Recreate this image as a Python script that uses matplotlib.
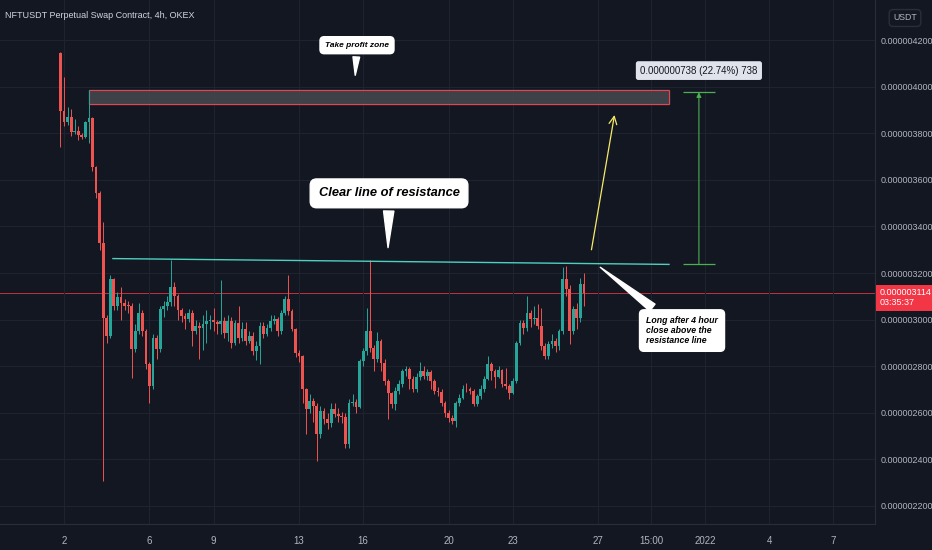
import matplotlib.pyplot as plt
from matplotlib.ticker import FuncFormatter

plt.rcParams['font.family'] = ['Liberation Sans', 'DejaVu Sans']

# prices are in units of 1e-9 USDT (3114 -> 0.000003114)
first_open = 4145
closes = [
    3896, 3847, 3869, 3804, 3810, 3791, 3783, 3847, 3865, 3654,
    3542, 3331, 3009, 2931, 3176, 3060, 3095, 3070, 3060, 3058,
    2875, 2953, 3030, 2953, 2811, 2716, 2923, 2875, 3047, 3060,
    3075, 3138, 3100, 3040, 3017, 3004, 3030, 2953, 2974, 2966,
    2983, 2996, 3000, 2990, 2980, 2996, 2944, 2996, 2901, 2987,
    2920, 2961, 2910, 2930, 2867, 2888, 2974, 2940, 2966, 2996,
    3004, 2953, 3030, 3090, 3039, 2961, 2858, 2845, 2703, 2617,
    2652, 2630, 2510, 2609, 2574, 2557, 2617, 2596, 2587, 2580,
    2467, 2643, 2645, 2625, 2824, 2867, 2953, 2880, 2832, 2910,
    2815, 2738, 2686, 2639, 2695, 2725, 2781, 2790, 2746, 2703,
    2755, 2781, 2760, 2776, 2738, 2695, 2690, 2643, 2600, 2578,
    2566, 2643, 2665, 2703, 2700, 2692, 2639, 2673, 2703, 2746,
    2811, 2781, 2755, 2785, 2725, 2716, 2686, 2738, 2901, 2987,
    2966, 3030, 3004, 3009, 2974, 2888, 2845, 2897, 2910, 2888,
    2953, 3176, 3133, 2953, 3047, 3009, 3155, 3114,
]
highs = [
    4150, 4041, 3912, 3905, 3860, 3830, 3800, 3852, 3985, 3870,
    3660, 3550, 3420, 3020, 3190, 3180, 3120, 3140, 3090, 3080,
    3070, 2980, 3070, 3040, 2960, 2820, 2940, 2935, 3060, 3080,
    3100, 3254, 3160, 3110, 3050, 3030, 3045, 3040, 3000, 2990,
    3020, 3040, 3020, 3050, 3000, 3172, 3010, 3020, 3010, 3000,
    3060, 2990, 2990, 2950, 2945, 2910, 2990, 2990, 2980, 3020,
    3020, 3010, 3040, 3100, 3190, 3045, 2965, 2870, 2850, 2705,
    2680, 2665, 2640, 2630, 2620, 2600, 2640, 2640, 2620, 2605,
    2600, 2660, 2680, 2660, 2830, 2880, 3050, 3254, 2890, 2945,
    2915, 2830, 2745, 2690, 2710, 2740, 2790, 2800, 2795, 2760,
    2770, 2820, 2800, 2790, 2785, 2745, 2710, 2700, 2650, 2610,
    2590, 2650, 2680, 2720, 2730, 2710, 2700, 2680, 2720, 2760,
    2845, 2820, 2790, 2800, 2790, 2794, 2725, 2750, 2910, 3000,
    3000, 3103, 3040, 3060, 3069, 3050, 2900, 2910, 2940, 2920,
    2960, 3224, 3230, 3150, 3060, 3070, 3180, 3200,
]
lows = [
    3740, 3830, 3835, 3790, 3795, 3770, 3775, 3778, 3757, 3640,
    3520, 3300, 2308, 2900, 2920, 3040, 3040, 3000, 3040, 3030,
    2750, 2860, 2940, 2930, 2790, 2640, 2700, 2830, 2860, 3010,
    3040, 3060, 3060, 3000, 2990, 2960, 2990, 2888, 2940, 2830,
    2870, 2900, 2960, 2950, 2940, 2940, 2920, 2910, 2880, 2890,
    2900, 2910, 2890, 2900, 2850, 2828, 2810, 2920, 2930, 2950,
    2980, 2930, 2940, 3020, 3020, 2950, 2840, 2820, 2640, 2510,
    2600, 2560, 2394, 2490, 2550, 2530, 2540, 2580, 2560, 2555,
    2450, 2450, 2630, 2600, 2620, 2800, 2850, 2860, 2780, 2820,
    2780, 2720, 2574, 2620, 2610, 2680, 2710, 2760, 2700, 2690,
    2690, 2740, 2745, 2740, 2700, 2680, 2670, 2630, 2580, 2560,
    2553, 2540, 2630, 2660, 2690, 2680, 2630, 2630, 2660, 2690,
    2740, 2740, 2707, 2750, 2710, 2700, 2660, 2680, 2730, 2890,
    2940, 2950, 2970, 2980, 2960, 2870, 2830, 2830, 2880, 2860,
    2870, 2940, 3100, 2897, 2940, 2960, 2990, 3060,
]

# x axis is in days of December 2021 (32 = 1 Jan 2022)
first_candle_day = 1 + 20 / 24
candle_step = 4 / 24
date_ticks = [2, 6, 9, 13, 16, 20, 23, 27, 29.47, 32, 35, 38]
date_labels = ['2', '6', '9', '13', '16', '20', '23', '27', '15:00', '2022', '4', '7']
price_ticks = list(range(2200, 4201, 200))
last_price = 3114

# drawings
tp_zone = (3.17, 30.31, 3925, 3985)
resistance = ((4.29, 3262), (30.31, 3237))
measure_day, measure_top, measure_bottom = 31.71, 3976, 3237

BG = '#131722'
UP, DOWN = '#26a69a', '#ef5350'
TXT = '#b2b5be'

fig = plt.figure(figsize=(9.32, 5.5), dpi=100, facecolor=BG)
ax = fig.add_axes([0, 26 / 550, 875 / 932, 524 / 550], facecolor=BG)

opens = [first_open] + closes[:-1]
xs = [first_candle_day + i * candle_step for i in range(len(closes))]
cols = [UP if c >= o else DOWN for o, c in zip(opens, closes)]

ax.vlines(xs, lows, highs, colors=cols, lw=0.7, zorder=3)
ax.bar(xs, [max(abs(c - o), 4) for o, c in zip(opens, closes)],
       bottom=[min(o, c) for o, c in zip(opens, closes)],
       width=0.13, color=cols, zorder=4)

# take profit zone
x0, x1, y0, y1 = tp_zone
ax.fill_between([x0, x1], y0, y1, color='#45464d', alpha=0.9, zorder=2)
ax.hlines([y0, y1], x0, x1, color='#e8444f', lw=0.8, zorder=2)
ax.vlines([x0, x1], y0, y1, color='#e8444f', lw=0.8, zorder=2)

# resistance line
ax.plot([resistance[0][0], resistance[1][0]], [resistance[0][1], resistance[1][1]],
        color='#4dd0c0', lw=1.0, zorder=5)

# current price line
ax.axhline(last_price, color='#f23645', lw=0.7, alpha=0.8, zorder=1)

# yellow arrow
ax.annotate('', xy=(27.78, 3890), xytext=(26.66, 3288),
            arrowprops=dict(arrowstyle='->', color='#f5ea6a', lw=0.9, mutation_scale=14))

# measuring tool
ax.annotate('', xy=(measure_day, measure_top), xytext=(measure_day, measure_bottom),
            arrowprops=dict(arrowstyle='-|>', color='#4caf50', lw=0.8, mutation_scale=7,
                            shrinkA=0, shrinkB=0))
ax.hlines([measure_top, measure_bottom], measure_day - 0.75, measure_day + 0.75,
          color='#4caf50', lw=0.9)
ax.text(measure_day, 4069, '0.000000738 (22.74%) 738', ha='center', va='center',
        fontsize=7, color='#131722',
        bbox=dict(boxstyle='round,pad=0.45,rounding_size=0.25', fc='#e0e3eb', ec='none'))

white_box = dict(boxstyle='round,pad=0.6,rounding_size=0.5', fc='white', ec='white')
ax.annotate('Take profit zone', xy=(15.62, 4037), xytext=(15.71, 4178),
            ha='center', va='center', fontsize=6, fontweight='bold', style='italic',
            color='black', bbox=white_box,
            arrowprops=dict(arrowstyle='wedge,tail_width=0.8,shrink_factor=0.5',
                            fc='white', ec='white'))
ax.annotate('Clear line of resistance', xy=(17.16, 3297), xytext=(17.21, 3542),
            ha='center', va='center', fontsize=9.3, fontweight='bold', style='italic',
            color='black',
            bbox=dict(boxstyle='round,pad=0.65,rounding_size=0.5', fc='white', ec='white'),
            arrowprops=dict(arrowstyle='wedge,tail_width=0.8,shrink_factor=0.5',
                            fc='white', ec='white'))
ax.annotate('Long after 4 hour\nclose above the\nresistance line', xy=(26.99, 3232),
            xytext=(30.92, 2953), ha='center', va='center', ma='left', fontsize=6.3,
            fontweight='bold', style='italic', color='black',
            linespacing=1.1,
            bbox=dict(boxstyle='round,pad=0.75,rounding_size=0.5', fc='white', ec='white'),
            arrowprops=dict(arrowstyle='wedge,tail_width=1.0,shrink_factor=0.5',
                            fc='white', ec='white'))

# axes
ax.set_xlim(-0.995, 39.95)
ax.set_ylim(2122.6, 4372)
ax.yaxis.tick_right()
ax.set_yticks(price_ticks)
ax.yaxis.set_major_formatter(FuncFormatter(lambda v, p: f'{v * 1e-9:.9f}'))
ax.set_xticks(date_ticks)
ax.set_xticklabels(date_labels)
ax.tick_params(axis='both', length=0, labelsize=6.5, labelcolor=TXT)
ax.tick_params(axis='y', pad=4)
ax.tick_params(axis='x', pad=9, labelsize=7)
ax.grid(color='#1f2330', lw=0.8)
for s in ['top', 'left']:
    ax.spines[s].set_visible(False)
for s in ['right', 'bottom']:
    ax.spines[s].set_color('#2a2e39')

# last price label on the scale
ax.annotate('0.000003114\n03:35:37', xy=(1.0, last_price - 20),
            xycoords=('axes fraction', 'data'), xytext=(3, 0), textcoords='offset points',
            ha='left', va='center', fontsize=6.5, color='white', linespacing=1.2,
            bbox=dict(boxstyle='square,pad=0.35', fc='#f23645', ec='none'),
            annotation_clip=False, zorder=10)

fig.text(5 / 932, 1 - 15 / 550, 'NFTUSDT Perpetual Swap Contract, 4h, OKEX',
         fontsize=6.5, color='#d1d4dc', va='center')
fig.text(905 / 932, 1 - 18 / 550, 'USDT', fontsize=6.3, color=TXT, ha='center', va='center',
         bbox=dict(boxstyle='round,pad=0.45', fc=BG, ec='#2a2e39'))

fig.savefig('out.png', dpi=100, facecolor=BG)
